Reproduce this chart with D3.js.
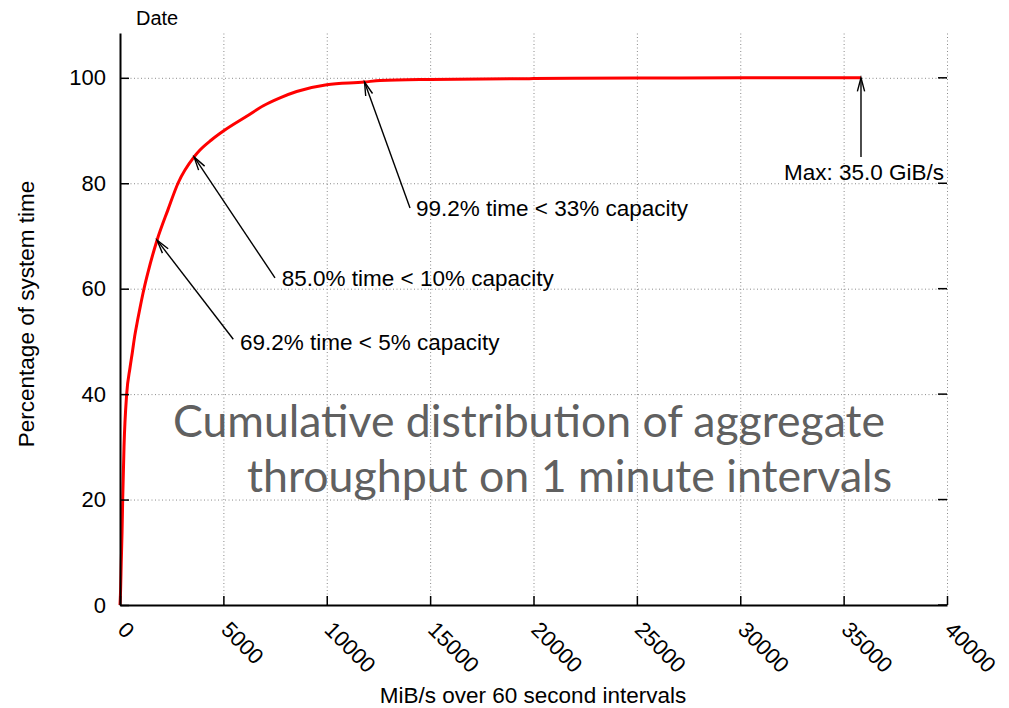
<!DOCTYPE html>
<html>
<head>
<meta charset="utf-8">
<script src="https://cdn.jsdelivr.net/npm/d3@7"></script>
<style>
  html, body { margin: 0; padding: 0; background: #fff; }
  svg { display: block; }
  text { font-family: "Liberation Sans", Arial, Helvetica, sans-serif; fill: #000; }
  text.caption { font-family: Lato, "Open Sans", sans-serif; fill: #606060; font-size: 44px; }
</style>
</head>
<body>
<svg id="chart" width="1009" height="708"></svg>
<script>
// Cumulative distribution: throughput (MiB/s) vs. percentage of system time
const throughput = [0, 30, 60, 100, 130, 194, 323, 484, 600, 711, 850, 1000, 1150, 1354, 1792,
  2322, 2805, 3584, 3869, 4418, 5000, 6127, 6933, 7739, 8545, 10000, 11827, 12576, 15000, 20000, 25000, 30000, 35840];
const percentTime = [0, 3, 8, 14, 20, 30, 40, 45, 48, 51, 54, 57, 59.8, 63.1, 69.2,
  75.0, 80.0, 85.0, 86.3, 88.2, 89.9, 92.7, 94.7, 96.2, 97.4, 98.7, 99.2, 99.5, 99.7, 99.85, 99.95, 100, 100];

// Axis ticks
const xTicks = [0, 5000, 10000, 15000, 20000, 25000, 30000, 35000, 40000];
const yTicks = [0, 20, 40, 60, 80, 100];

// Annotations (data coordinates): arrow tip, arrow tail, label anchor
const annText  = ["69.2% time < 5% capacity", "85.0% time < 10% capacity", "99.2% time < 33% capacity", "Max: 35.0 GiB/s"];
const annTipX  = [1792, 3584, 11827, 35840];
const annTipY  = [69.2, 85.0, 99.2, 100];
const annTailX = [5480, 7497, 14027, 35840];
const annTailY = [50.4, 62.05, 75.3, 85];
const annLblX  = [5804, 7821, 14317, 39855];
const annLblY  = [48.4, 60.5, 73.7, 80.6];
const annAnchor = ["start", "start", "start", "end"];

const svg = d3.select("#chart");

const x = d3.scaleLinear().domain([0, 40000]).range([120, 947]);
const y = d3.scaleLinear().domain([0, 108.5]).range([605, 33]);

// Dotted grid
const grid = svg.append("g").attr("stroke", "#8a8a8a").attr("stroke-width", 1)
  .attr("stroke-dasharray", "1,2.5");
grid.selectAll("line.h").data(yTicks.filter(d => d > 0)).join("line")
  .attr("class", "h")
  .attr("x1", x(0)).attr("x2", x(40000))
  .attr("y1", d => y(d) + 0.5).attr("y2", d => y(d) + 0.5);
grid.selectAll("line.v").data(xTicks.filter(d => d > 0)).join("line")
  .attr("class", "v")
  .attr("x1", d => x(d) + 0.5).attr("x2", d => x(d) + 0.5)
  .attr("y1", y(0)).attr("y2", y.range()[1]);

// Mirrored y tics on the right edge
svg.append("g").selectAll("line").data(yTicks).join("line")
  .attr("x1", x(40000) - 9).attr("x2", x(40000))
  .attr("y1", d => y(d)).attr("y2", d => y(d))
  .attr("stroke", "#000").attr("stroke-width", 1.5);

// Big overlay caption
const cap = svg.append("g");
cap.append("text").attr("class", "caption").attr("x", 173).attr("y", 437)
  .attr("textLength", 712).attr("lengthAdjust", "spacingAndGlyphs")
  .text("Cumulative distribution of aggregate");
cap.append("text").attr("class", "caption").attr("x", 247).attr("y", 492)
  .attr("textLength", 645).attr("lengthAdjust", "spacingAndGlyphs")
  .text("throughput on 1 minute intervals");

// CDF curve
const pts = throughput.map((t, i) => [t, percentTime[i]]);
svg.append("path").datum(pts)
  .attr("fill", "none").attr("stroke", "#ff0000").attr("stroke-width", 3)
  .attr("stroke-linejoin", "round")
  .attr("d", d3.line().x(d => x(d[0])).y(d => y(d[1])).curve(d3.curveMonotoneX));

// Axes
const yAxis = d3.axisLeft(y).tickValues(yTicks).tickSizeInner(-9).tickSizeOuter(0).tickPadding(14);
const gy = svg.append("g").attr("transform", `translate(${x(0)},0)`).call(yAxis);
gy.selectAll("text").style("font-size", "22px").attr("fill", "#000");

const xAxis = d3.axisBottom(x).tickValues(xTicks).tickSizeInner(-9).tickSizeOuter(0).tickFormat(d3.format("d"));
const gx = svg.append("g").attr("transform", `translate(0,${y(0)})`).call(xAxis);
gx.selectAll("text").style("font-size", "22px").attr("fill", "#000")
  .attr("text-anchor", "start").attr("dy", null).attr("y", null)
  .attr("transform", "translate(-4,26) rotate(45)");

[gx, gy].forEach(g => {
  g.select(".domain").attr("stroke", "#000").attr("stroke-width", 2);
  g.selectAll(".tick line").attr("stroke", "#000").attr("stroke-width", 1.5);
});

// Annotation arrows with open heads
const arrows = svg.append("g").attr("stroke", "#000").attr("stroke-width", 1.4).attr("fill", "none");
annTipX.forEach((tx, i) => {
  const x1 = x(annTailX[i]), y1 = y(annTailY[i]);
  const x2 = x(tx), y2 = y(annTipY[i]);
  arrows.append("line").attr("x1", x1).attr("y1", y1).attr("x2", x2).attr("y2", y2);
  const ang = Math.atan2(y2 - y1, x2 - x1), len = 14, spread = Math.PI / 12;
  const p = d3.path();
  p.moveTo(x2 - len * Math.cos(ang - spread), y2 - len * Math.sin(ang - spread));
  p.lineTo(x2, y2);
  p.lineTo(x2 - len * Math.cos(ang + spread), y2 - len * Math.sin(ang + spread));
  arrows.append("path").attr("d", p.toString());
});
svg.append("g").selectAll("text").data(annText).join("text")
  .attr("x", (d, i) => x(annLblX[i])).attr("y", (d, i) => y(annLblY[i]))
  .attr("text-anchor", (d, i) => annAnchor[i])
  .style("font-size", "22.5px")
  .text(d => d);

// Axis titles
svg.append("text").attr("x", 136).attr("y", 25).style("font-size", "20px").text("Date");
svg.append("text").attr("x", 533).attr("y", 703).attr("text-anchor", "middle")
  .style("font-size", "22.5px").text("MiB/s over 60 second intervals");
svg.append("text").attr("transform", "translate(34,314) rotate(-90)").attr("text-anchor", "middle")
  .style("font-size", "22.5px").text("Percentage of system time");
</script>
</body>
</html>
